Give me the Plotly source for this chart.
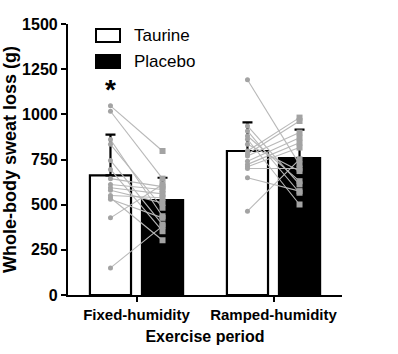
import plotly.graph_objects as go

# ---- data ----
periods = ["Fixed-humidity", "Ramped-humidity"]
taurine_mean = [662, 797]
placebo_mean = [525, 758]
taurine_sd = [226, 159]
placebo_sd = [124, 157]

fixed_taurine = [1047, 1017, 861, 834, 745, 695, 644, 612, 594, 580, 551, 538, 530, 427, 150]
fixed_placebo = [797, 644, 436, 483, 390, 353, 600, 584, 560, 510, 538, 303, 427, 612, 381]
ramped_taurine = [1191, 936, 908, 880, 862, 834, 797, 780, 769, 741, 723, 710, 700, 649, 464]
ramped_placebo = [723, 612, 566, 630, 501, 686, 982, 963, 899, 871, 843, 816, 700, 575, 751]

y_ticks = [0, 250, 500, 750, 1000, 1250, 1500]
legend_names = ["Taurine", "Placebo"]

# ---- layout constants ----
W, H = 398, 354
ML, MR, MT, MB = 68, 56, 24, 59
OFF = 0.19
BW = 0.30
FONT = "Liberation Sans, Arial, sans-serif"
PT_COLOR = "#a3a3a3"
LN_COLOR = "#b8b8b8"

xt = [i - OFF for i in range(len(periods))]
xp = [i + OFF for i in range(len(periods))]

fig = go.Figure()

fig.add_trace(go.Bar(
    x=xt, y=taurine_mean, width=BW, name=legend_names[0],
    marker=dict(color="white", line=dict(color="black", width=2.2)),
    error_y=dict(type="data", symmetric=False, array=taurine_sd,
                 arrayminus=[0, 0], color="black", thickness=2.2, width=5),
))
fig.add_trace(go.Bar(
    x=xp, y=placebo_mean, width=BW, name=legend_names[1],
    marker=dict(color="black", line=dict(color="black", width=2.2)),
    error_y=dict(type="data", symmetric=False, array=placebo_sd,
                 arrayminus=[0, 0], color="black", thickness=2.2, width=5),
))

# paired lines
pairs = [(fixed_taurine, fixed_placebo, 0), (ramped_taurine, ramped_placebo, 1)]
lx, ly = [], []
for tv, pv, i in pairs:
    for a, b in zip(tv, pv):
        lx += [xt[i], xp[i], None]
        ly += [a, b, None]
fig.add_trace(go.Scatter(x=lx, y=ly, mode="lines",
                         line=dict(color=LN_COLOR, width=1.1),
                         hoverinfo="skip", showlegend=False))

tx, ty, px, py = [], [], [], []
for tv, pv, i in pairs:
    tx += [xt[i]] * len(tv); ty += tv
    px += [xp[i]] * len(pv); py += pv
fig.add_trace(go.Scatter(x=tx, y=ty, mode="markers",
                         marker=dict(symbol="circle", size=5, color=PT_COLOR),
                         showlegend=False))
fig.add_trace(go.Scatter(x=px, y=py, mode="markers",
                         marker=dict(symbol="square", size=6, color=PT_COLOR),
                         showlegend=False))

# significance asterisk
fig.add_annotation(x=xt[0], y=1140, text="<b>*</b>", showarrow=False,
                   font=dict(size=28, color="black", family=FONT),
                   xanchor="center", yanchor="middle")

# custom legend (pixel -> paper)
PW, PH = W - ML - MR, H - MT - MB
def px2x(p):
    return (p - ML) / PW
def py2y(p):
    return (H - MB - p) / PH

boxes = [(29, 42, "white"), (55, 68, "black")]
for (y0, y1, col), name in zip(boxes, legend_names):
    fig.add_shape(type="rect", xref="paper", yref="paper",
                  x0=px2x(96), x1=px2x(120), y0=py2y(y1), y1=py2y(y0),
                  fillcolor=col, line=dict(color="black", width=2))
    fig.add_annotation(xref="paper", yref="paper", x=px2x(132),
                       y=py2y((y0 + y1) / 2), text=name, showarrow=False,
                       xanchor="left", yanchor="middle",
                       font=dict(size=17, color="black", family=FONT))

fig.update_layout(
    width=W, height=H,
    margin=dict(l=ML, r=MR, t=MT, b=MB, autoexpand=False),
    plot_bgcolor="white", paper_bgcolor="white",
    showlegend=False,
    font=dict(family=FONT, color="black"),
    barmode="overlay",
)
fig.update_xaxes(
    range=[-0.5, 1.5], tickvals=list(range(len(periods))),
    ticktext=[f"<b>{p}</b>" for p in periods],
    tickfont=dict(size=15, family=FONT, color="black"),
    ticks="outside", ticklen=5, tickwidth=2, tickcolor="black",
    showline=True, linewidth=2.2, linecolor="black",
    showgrid=False, zeroline=False, automargin=False,
    title=dict(text="<b>Exercise period</b>", standoff=9,
               font=dict(size=16, family=FONT, color="black")),
)
fig.update_yaxes(
    range=[0, 1500], tickvals=y_ticks,
    ticktext=[f"<b>{v}</b>" for v in y_ticks],
    tickfont=dict(size=16, family=FONT, color="black"),
    ticks="outside", ticklen=5, tickwidth=2, tickcolor="black",
    ticklabelstandoff=0,
    showline=True, linewidth=2.2, linecolor="black",
    showgrid=False, zeroline=False, automargin=False,
    title=dict(text="<b>Whole-body sweat loss (g)</b>", standoff=5,
               font=dict(size=18, family=FONT, color="black")),
)

fig.write_html("out.html")
